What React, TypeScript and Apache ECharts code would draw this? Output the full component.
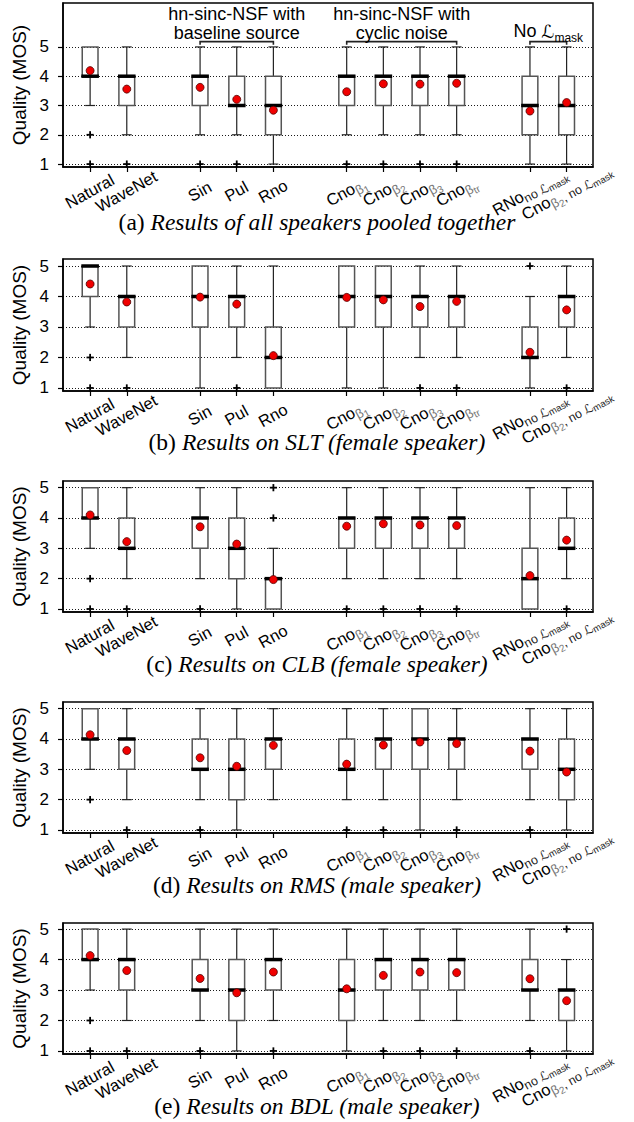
import React, { useEffect, useRef } from 'react';
import * as echarts from 'echarts';

// ---------- data ----------
const systems = ['Natural', 'WaveNet', 'Sin', 'Pul', 'Rno', 'Cno_b1', 'Cno_b2', 'Cno_b3', 'Cno_btr', 'RNo_noL', 'Cno_b2_noL'];
const xSlots = [0, 1, 3, 4, 5, 7, 8, 9, 10, 12, 13];
const tickLabels = [
  '{m|Natural}', '{m|WaveNet}', '{m|Sin}', '{m|Pul}', '{m|Rno}',
  '{m|Cno}{s|β}{ss|1}', '{m|Cno}{s|β}{ss|2}', '{m|Cno}{s|β}{ss|3}', '{m|Cno}{s|β}{ss|tr}',
  '{m|RNo}{n|no }{l|ℒ}{ns|mask}', '{m|Cno}{s|β}{ss|2}{n|, no }{l|ℒ}{ns|mask}',
];
const yTicks = [1, 2, 3, 4, 5];

// each box: [low whisker, Q1, median, Q3, high whisker]
const boxesA = [[3, 4, 4, 5, 5], [2, 3, 4, 4, 5], [2, 3, 4, 4, 5], [2, 3, 3, 4, 5], [1, 2, 3, 4, 5], [2, 3, 4, 4, 5], [2, 3, 4, 4, 5], [2, 3, 4, 4, 5], [2, 3, 4, 4, 5], [1, 2, 3, 4, 5], [1, 2, 3, 4, 5]];
const meansA = [4.19, 3.56, 3.62, 3.21, 2.84, 3.47, 3.74, 3.73, 3.76, 2.81, 3.1];
const outliersA = [[0, 2], [0, 1], [1, 1], [2, 1], [3, 1], [5, 1], [6, 1], [7, 1], [8, 1]];

const boxesB = [[3, 4, 5, 5, 5], [2, 3, 4, 4, 5], [1, 3, 4, 5, 5], [2, 3, 4, 4, 5], [1, 1, 2, 3, 5], [1, 3, 4, 5, 5], [1, 3, 4, 5, 5], [2, 3, 4, 4, 5], [2, 3, 4, 4, 5], [1, 2, 2, 3, 4], [2, 3, 4, 4, 5]];
const meansB = [4.41, 3.82, 3.98, 3.75, 2.06, 3.97, 3.89, 3.67, 3.84, 2.17, 3.56];
const outliersB = [[0, 2], [0, 1], [1, 1], [3, 1], [7, 1], [8, 1], [9, 5], [10, 1]];

const boxesC = [[3, 4, 4, 5, 5], [2, 3, 3, 4, 5], [2, 3, 4, 4, 5], [1, 2, 3, 4, 5], [1, 1, 2, 2, 3], [2, 3, 4, 4, 5], [2, 3, 4, 4, 5], [2, 3, 4, 4, 5], [2, 3, 4, 4, 5], [1, 1, 2, 3, 5], [2, 3, 3, 4, 5]];
const meansC = [4.1, 3.22, 3.71, 3.14, 1.97, 3.73, 3.81, 3.77, 3.75, 2.1, 3.27];
const outliersC = [[0, 2], [0, 1], [1, 1], [2, 1], [4, 4], [4, 5], [5, 1], [6, 1], [7, 1], [8, 1], [10, 1]];

const boxesD = [[3, 4, 4, 5, 5], [2, 3, 4, 4, 5], [2, 3, 3, 4, 5], [1, 2, 3, 4, 5], [2, 3, 4, 4, 5], [2, 3, 3, 4, 5], [2, 3, 4, 4, 5], [1, 3, 4, 5, 5], [2, 3, 4, 4, 5], [2, 3, 4, 4, 5], [1, 2, 3, 4, 5]];
const meansD = [4.14, 3.62, 3.38, 3.1, 3.79, 3.17, 3.8, 3.9, 3.85, 3.6, 2.91];
const outliersD = [[0, 2], [1, 1], [2, 1], [5, 1], [6, 1], [8, 1], [9, 1]];

const boxesE = [[3, 4, 4, 5, 5], [2, 3, 4, 4, 5], [2, 3, 3, 4, 5], [1, 2, 3, 4, 5], [2, 3, 4, 4, 5], [1, 2, 3, 4, 5], [2, 3, 4, 4, 5], [2, 3, 4, 4, 5], [2, 3, 4, 4, 5], [2, 3, 3, 4, 5], [1, 2, 3, 3, 4]];
const meansE = [4.13, 3.64, 3.38, 2.91, 3.59, 3.04, 3.48, 3.59, 3.57, 3.37, 2.65];
const outliersE = [[0, 2], [0, 1], [1, 1], [2, 1], [4, 1], [6, 1], [7, 1], [8, 1], [9, 1], [10, 5]];

const captionTags = ['(a) ', '(b) ', '(c) ', '(d) ', '(e) '];
const captionTexts = [
  'Results of all speakers pooled together',
  'Results on SLT (female speaker)',
  'Results on CLB (female speaker)',
  'Results on RMS (male speaker)',
  'Results on BDL (male speaker)',
];
const yAxisName = 'Quality (MOS)';
const groupLines1 = ['hn-sinc-NSF with', 'hn-sinc-NSF with'];
const groupLines2 = ['baseline source', 'cyclic noise'];
// first and last system index of each bracketed group
const groupSpans = [[2, 4], [5, 8], [9, 10]];

// ---------- layout ----------
const SANS = 'Liberation Sans, Arial, Helvetica, sans-serif';
const SERIF = 'Liberation Serif, Times New Roman, serif';
const GRID_LEFT = 63;
const GRID_WIDTH = 530;
const X_MIN = -0.74;
const X_MAX = 13.72;
const panels = [
  { boxes: boxesA, means: meansA, outliers: outliersA, top: 3, height: 164, yMax: 6.5, capY: 222 },
  { boxes: boxesB, means: meansB, outliers: outliersB, top: 259, height: 132, yMax: 5.23, capY: 442 },
  { boxes: boxesC, means: meansC, outliers: outliersC, top: 481, height: 131, yMax: 5.22, capY: 664 },
  { boxes: boxesD, means: meansD, outliers: outliersD, top: 702, height: 131, yMax: 5.22, capY: 885 },
  { boxes: boxesE, means: meansE, outliers: outliersE, top: 923, height: 131, yMax: 5.2, capY: 1106 },
];
const BOX_W = 0.43;
const MED_W = 0.48;
const CAP_W = 0.27;
// labels are split over two overlapping axes so that the two crowded
// rotated labels at the right end are both kept
const SPLIT_SYSTEM = 9;
const slotsMain = xSlots.filter((_, k) => k !== SPLIT_SYSTEM);
const slotsExtra = [xSlots[SPLIT_SYSTEM]];

const labelRich = {
  m: { fontSize: 16.5, fontFamily: SANS, color: '#000', lineHeight: 19, verticalAlign: 'top' },
  s: { fontSize: 13, fontFamily: SANS, color: '#777', lineHeight: 13, padding: [7, 0, 0, 0], verticalAlign: 'top' },
  ss: { fontSize: 10, fontFamily: SANS, color: '#777', lineHeight: 10, padding: [12, 0, 0, 0], verticalAlign: 'top' },
  n: { fontSize: 12.5, fontFamily: SANS, color: '#222', lineHeight: 13, padding: [7, 0, 0, 0], verticalAlign: 'top' },
  l: { fontSize: 12.5, fontFamily: 'DejaVu Sans, sans-serif', fontStyle: 'italic', color: '#222', lineHeight: 13, padding: [7, 0, 0, 0], verticalAlign: 'top' },
  ns: { fontSize: 9.5, fontFamily: SANS, color: '#222', lineHeight: 10, padding: [11, 0, 0, 0], verticalAlign: 'top' },
};

const labelFormatter = (v: number) => {
  const k = xSlots.indexOf(Math.round(v));
  return k >= 0 ? tickLabels[k] : '';
};

function xLabelAxis(gridIndex: number, slots: number[], showLine: boolean) {
  return {
    type: 'value', gridIndex, min: X_MIN, max: X_MAX, position: 'bottom',
    axisLine: { show: showLine, onZero: false, lineStyle: { color: '#000', width: 1.5 } },
    axisTick: { show: true, customValues: slots, length: 5, lineStyle: { color: '#000', width: 1.2 } },
    axisLabel: {
      show: true, customValues: slots, rotate: 29, align: 'center', verticalAlign: 'middle', margin: 25,
      showMinLabel: true, showMaxLabel: true, hideOverlap: false,
      formatter: labelFormatter, rich: labelRich,
    },
    splitLine: { show: false },
  };
}

function buildOption() {
  const grid: any[] = [];
  const xAxis: any[] = [];
  const yAxis: any[] = [];
  const series: any[] = [];
  panels.forEach((p, i) => {
    grid.push({
      left: GRID_LEFT, top: p.top, width: GRID_WIDTH, height: p.height,
      show: true, borderColor: '#000', borderWidth: 1.5, backgroundColor: 'transparent',
    });
    xAxis.push(xLabelAxis(i, slotsMain, true));
    yAxis.push({
      type: 'value', gridIndex: i, min: 0.9, max: p.yMax,
      name: yAxisName, nameLocation: 'middle', nameGap: 33,
      nameTextStyle: { fontSize: 19, fontFamily: SANS, color: '#000' },
      axisLine: { show: true, onZero: false, lineStyle: { color: '#000', width: 1.5 } },
      axisTick: { show: true, customValues: yTicks, length: 5, lineStyle: { color: '#000', width: 1.2 } },
      axisLabel: { show: true, customValues: yTicks, fontSize: 17, fontFamily: SANS, color: '#000', margin: 14, showMinLabel: true, showMaxLabel: true },
      splitLine: { show: false },
    });
    series.push({
      type: 'custom', xAxisIndex: i, yAxisIndex: i, z: 3,
      encode: { x: 0, y: [1, 2, 3, 4, 5] },
      data: p.boxes.map((b, k) => [xSlots[k], ...b]),
      renderItem: (params: any, api: any) => {
        const x = api.value(0);
        const lo = api.value(1), q1 = api.value(2), med = api.value(3), q3 = api.value(4), hi = api.value(5);
        const cx = api.coord([x, lo])[0];
        const yLo = api.coord([x, lo])[1];
        const yQ1 = api.coord([x, q1])[1];
        const yMed = api.coord([x, med])[1];
        const yQ3 = api.coord([x, q3])[1];
        const yHi = api.coord([x, hi])[1];
        const bw = api.size([BOX_W, 0])[0];
        const mw = api.size([MED_W, 0])[0];
        const cw = api.size([CAP_W, 0])[0];
        const wStyle = { stroke: '#222', lineWidth: 1.2 };
        const children: any[] = [];
        if (lo < q1) {
          children.push({ type: 'line', shape: { x1: cx, y1: yQ1, x2: cx, y2: yLo }, style: wStyle });
          children.push({ type: 'line', shape: { x1: cx - cw / 2, y1: yLo, x2: cx + cw / 2, y2: yLo }, style: wStyle });
        }
        if (hi > q3) {
          children.push({ type: 'line', shape: { x1: cx, y1: yQ3, x2: cx, y2: yHi }, style: wStyle });
          children.push({ type: 'line', shape: { x1: cx - cw / 2, y1: yHi, x2: cx + cw / 2, y2: yHi }, style: wStyle });
        }
        children.push({
          type: 'rect', shape: { x: cx - bw / 2, y: yQ3, width: bw, height: yQ1 - yQ3 },
          style: { fill: 'none', stroke: '#555', lineWidth: 1.5 },
        });
        children.push({
          type: 'line', shape: { x1: cx - mw / 2, y1: yMed, x2: cx + mw / 2, y2: yMed },
          style: { stroke: '#000', lineWidth: 3.5 },
        });
        return { type: 'group', children };
      },
      markLine: {
        silent: true, z: 1, symbol: ['none', 'none'], label: { show: false },
        lineStyle: { type: [1, 2], color: '#000', width: 0.9 },
        emphasis: { disabled: true },
        data: yTicks.map((v) => ({ yAxis: v })),
      },
    });
    series.push({
      type: 'custom', xAxisIndex: i, yAxisIndex: i, z: 4,
      encode: { x: 0, y: 1 },
      data: p.outliers.map((o) => [xSlots[o[0]], o[1]]),
      renderItem: (params: any, api: any) => {
        const c = api.coord([api.value(0), api.value(1)]);
        const h = 3.6;
        const st = { stroke: '#000', lineWidth: 1.8 };
        return {
          type: 'group',
          children: [
            { type: 'line', shape: { x1: c[0] - h, y1: c[1], x2: c[0] + h, y2: c[1] }, style: st },
            { type: 'line', shape: { x1: c[0], y1: c[1] - h, x2: c[0], y2: c[1] + h }, style: st },
          ],
        };
      },
    });
    series.push({
      type: 'scatter', xAxisIndex: i, yAxisIndex: i, z: 10,
      symbol: 'circle', symbolSize: 8,
      itemStyle: { color: '#f00000', borderColor: '#500000', borderWidth: 0.8, opacity: 1 },
      data: p.means.map((m, k) => [xSlots[k], m]),
    });
  });
  // second label axis for each panel (indices 5..9)
  panels.forEach((p, i) => {
    xAxis.push(xLabelAxis(i, slotsExtra, false));
  });
  return { animation: false, backgroundColor: '#fff', grid, xAxis, yAxis, series };
}

export default function App() {
  const ref = useRef<HTMLDivElement>(null);
  useEffect(() => {
    if (!ref.current) return;
    const chart = echarts.init(ref.current, undefined, { renderer: 'svg' });
    chart.setOption(buildOption());
    const px = (x: number, y: number) => chart.convertToPixel({ xAxisIndex: 0, yAxisIndex: 0 }, [x, y]) as number[];
    const graphic: any[] = [];
    const bracketY = 5.18;
    groupSpans.forEach((g, gi) => {
      const a = px(xSlots[g[0]], bracketY);
      const b = px(xSlots[g[1]], bracketY);
      graphic.push({
        type: 'polyline', silent: true,
        shape: { points: [[a[0], a[1] + 3], [a[0], a[1]], [b[0], b[1]], [b[0], b[1] + 3]] },
        style: { stroke: '#222', lineWidth: 1.6, fill: 'none' },
      });
      const cxp = (a[0] + b[0]) / 2;
      if (gi < 2) {
        const l1 = px(0, 6.14);
        const l2 = px(0, 5.47);
        graphic.push({ type: 'text', x: cxp, y: l1[1], silent: true, style: { text: groupLines1[gi], fontSize: 18, fontFamily: SANS, fill: '#000', align: 'center', verticalAlign: 'middle' } });
        graphic.push({ type: 'text', x: cxp, y: l2[1], silent: true, style: { text: groupLines2[gi], fontSize: 18, fontFamily: SANS, fill: '#000', align: 'center', verticalAlign: 'middle' } });
      } else {
        const l2 = px(0, 5.5);
        graphic.push({
          type: 'text', x: cxp, y: l2[1], silent: true,
          style: {
            text: '{a|No }{l|ℒ}{b|mask}', align: 'center', verticalAlign: 'middle',
            rich: {
              a: { fontSize: 18, fontFamily: SANS, fill: '#000', lineHeight: 20, verticalAlign: 'top' },
              l: { fontSize: 18, fontFamily: 'DejaVu Sans, sans-serif', fontStyle: 'italic', fill: '#000', lineHeight: 20, verticalAlign: 'top' },
              b: { fontSize: 12, fontFamily: SANS, fill: '#000', lineHeight: 12, padding: [10, 0, 0, 0], verticalAlign: 'top' },
            },
          },
        });
      }
    });
    panels.forEach((p, i) => {
      graphic.push({
        type: 'text', x: 317, y: p.capY, silent: true,
        style: {
          text: `{n|${captionTags[i]}}{i|${captionTexts[i]}}`, align: 'center', verticalAlign: 'middle',
          rich: {
            n: { fontSize: 23.5, fontFamily: SERIF, fill: '#000' },
            i: { fontSize: 23.5, fontFamily: SERIF, fontStyle: 'italic', fill: '#000' },
          },
        },
      });
    });
    chart.setOption({ graphic });
    return () => chart.dispose();
  }, []);
  return <div ref={ref} style={{ position: 'absolute', left: 0, top: 0, width: 634, height: 1122 }} />;
}
